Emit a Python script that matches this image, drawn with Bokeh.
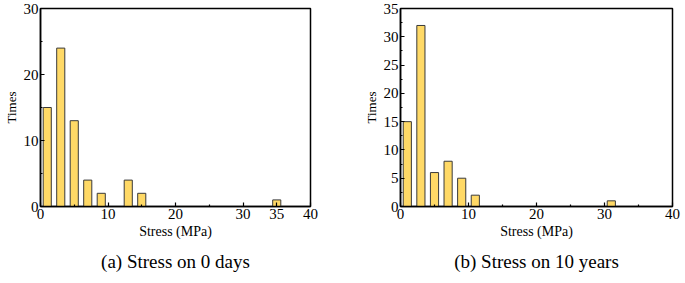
from bokeh.plotting import figure
from bokeh.layouts import row
from bokeh.models import FixedTicker, Title, Range1d
from bokeh.embed import file_html
from bokeh.resources import INLINE

# Data
stress_a = [1, 3, 5, 7, 9, 13, 15, 35]
times_a = [15, 24, 13, 4, 2, 4, 2, 1]
stress_b = [1, 3, 5, 7, 9, 11, 31]
times_b = [15, 32, 6, 8, 5, 2, 1]

xticks_a = [0, 10, 20, 30, 35, 40]
xminor_a = [5, 15, 25]
yticks_a = [0, 10, 20, 30]
yminor_a = [5, 15, 25]
xticks_b = [0, 10, 20, 30, 40]
xminor_b = [5, 15, 25, 35]
yticks_b = [0, 5, 10, 15, 20, 25, 30, 35]
yminor_b = [2.5, 7.5, 12.5, 17.5, 22.5, 27.5, 32.5]

FONT = "'Liberation Serif', 'Times New Roman', serif"
BAR_FILL = "#FFD966"
BAR_LINE = "#3a3a3a"


def make_plot(xs, ys, ymax, xt, xm, yt, ym, caption, fw, mbr):
    p = figure(frame_width=fw, frame_height=198,
               x_range=Range1d(0, 40), y_range=Range1d(0, ymax),
               output_backend="svg", toolbar_location=None,
               min_border_left=0, min_border_top=8,
               min_border_right=mbr, min_border_bottom=0,
               background_fill_color="white", border_fill_color="white")
    p.vbar(x=xs, top=ys, width=1.2, fill_color=BAR_FILL,
           line_color=BAR_LINE, line_width=1)
    p.xgrid.visible = False
    p.ygrid.visible = False
    p.outline_line_color = "black"
    p.outline_line_width = 1.5
    p.outline_line_alpha = 1

    p.xaxis.ticker = FixedTicker(ticks=xt, minor_ticks=xm)
    p.yaxis.ticker = FixedTicker(ticks=yt, minor_ticks=ym)
    for ax in (p.xaxis[0], p.yaxis[0]):
        ax.major_tick_in = 4
        ax.major_tick_out = 0
        ax.minor_tick_in = 2
        ax.minor_tick_out = 0
        ax.axis_line_color = "black"
        ax.axis_line_width = 1.5
        ax.major_tick_line_color = "black"
        ax.minor_tick_line_color = "black"
        ax.major_tick_line_width = 1.2
        ax.minor_tick_line_width = 1.2
        ax.major_label_text_font = FONT
        ax.major_label_text_font_size = "15px"
        ax.major_label_text_color = "black"
        ax.major_label_standoff = 2
        ax.axis_label_text_font = FONT
        ax.axis_label_text_font_style = "normal"
        ax.axis_label_text_color = "black"
        ax.axis_label_standoff = 2
    p.xaxis.axis_label = "Stress (MPa)"
    p.xaxis.axis_label_text_font_size = "14px"
    p.yaxis.axis_label = "Times"
    p.yaxis.axis_label_text_font_size = "13px"

    t = Title(text=caption, align="center", text_font=FONT,
              text_font_size="19px", text_font_style="normal",
              text_color="black", standoff=15)
    p.add_layout(t, "below")
    return p


p1 = make_plot(stress_a, times_a, 30, xticks_a, xminor_a, yticks_a, yminor_a,
               "(a) Stress on 0 days", 270, 50)
p2 = make_plot(stress_b, times_b, 35, xticks_b, xminor_b, yticks_b, yminor_b,
               "(b) Stress on 10 years", 272, 9)

layout = row(p1, p2)
open("out.html", "w").write(file_html(layout, INLINE))
